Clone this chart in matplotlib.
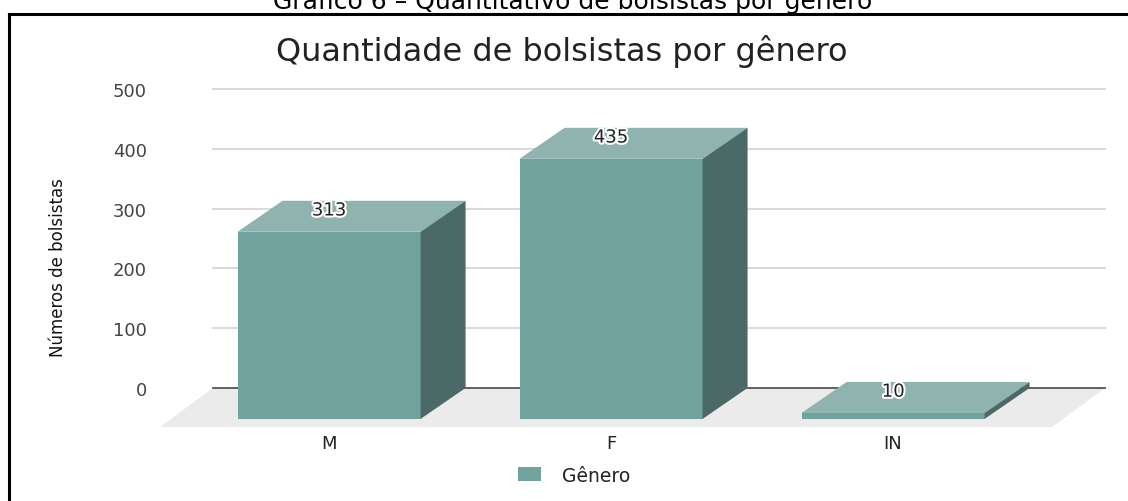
import matplotlib.pyplot as plt
import matplotlib.patheffects as pe
from matplotlib.patches import Polygon, Patch
from matplotlib.lines import Line2D

# Data
categories = ['M', 'F', 'IN']
bolsistas = [313, 435, 10]
y_ticks = [0, 100, 200, 300, 400, 500]

chart_title = 'Quantidade de bolsistas por gênero'
caption = 'Gráfico 6 – Quantitativo de bolsistas por gênero'
y_label = 'Números de bolsistas'
legend_label = 'Gênero'

# Colors
front_color = '#71a39e'
top_color = '#8fb4b0'
side_color = '#4b6a67'
floor_color = '#ebebeb'
grid_color = '#d9d9d9'

# fake 3d geometry (in data units)
half_w = 0.3245      # half width of the front face
depth_x = 0.1596     # horizontal shift of the back face
depth_y = 51.8       # vertical shift of the back face
grid_x0, grid_x1 = -0.411, 2.752
floor_front = (-0.599, 2.564, -65.2)

fig = plt.figure(figsize=(11.28, 5.02), dpi=100)
ax = fig.add_axes([0.1330, 0.1355, 0.8511, 0.7251])
ax.set_xlim(-0.6348, 2.7695)
ax.set_ylim(-75.25, 533.4)

# floor
floor = Polygon([(grid_x0, 0), (grid_x1, 0), (floor_front[1], floor_front[2]),
                 (floor_front[0], floor_front[2])], closed=True,
                facecolor=floor_color, edgecolor='none', zorder=1)
ax.add_patch(floor)

# gridlines on the back wall
for t in y_ticks[1:]:
    ax.plot([grid_x0, grid_x1], [t, t], color=grid_color, lw=1.4, zorder=0.5)
ax.plot([grid_x0, grid_x1], [0, 0], color='#555555', lw=1.3, zorder=1.5)

# bars
for i, v in enumerate(bolsistas):
    x0, x1 = i - half_w, i + half_w
    front = Polygon([(x0, -depth_y), (x1, -depth_y), (x1, v - depth_y), (x0, v - depth_y)],
                    facecolor=front_color, edgecolor='none', zorder=3)
    top = Polygon([(x0, v - depth_y), (x1, v - depth_y), (x1 + depth_x, v), (x0 + depth_x, v)],
                  facecolor=top_color, edgecolor='none', zorder=3)
    side = Polygon([(x1, -depth_y), (x1 + depth_x, 0), (x1 + depth_x, v), (x1, v - depth_y)],
                   facecolor=side_color, edgecolor='none', zorder=3)
    for p in (front, top, side):
        ax.add_patch(p)
    ax.annotate(str(v), (i, v), xytext=(0, -7), textcoords='offset points',
                ha='center', va='center', fontsize=13, color='#222222', zorder=5,
                path_effects=[pe.withStroke(linewidth=3, foreground='white')])

# axes
ax.set_yticks(y_ticks)
ax.set_yticklabels([str(t) for t in y_ticks], fontsize=13, color='#444444')
ax.set_xticks(range(len(categories)))
ax.set_xticklabels(categories, fontsize=13, color='#222222')
ax.tick_params(axis='y', length=0, pad=2.2)
ax.tick_params(axis='x', length=0, pad=1)
for s in ax.spines.values():
    s.set_visible(False)
ax.patch.set_visible(False)

fig.text(58 / 1128, 0.468, y_label, rotation=90, ha='center', va='center',
         fontsize=12, color='#111111')

# title and caption
fig.text(562 / 1128, 1 - 52 / 502, chart_title, ha='center', va='center',
         fontsize=23, color='#222222')
fig.text(573 / 1128, 1 - 9.5 / 502, caption, ha='center', va='baseline',
         fontsize=18, color='#000000')

# legend
fig.legend(handles=[Patch(facecolor=front_color, edgecolor='none', label=legend_label)],
           loc='center', bbox_to_anchor=(574.5 / 1128, 1 - 476 / 502), frameon=False,
           fontsize=13.5, handlelength=1.23, handleheight=0.85, handletextpad=1.12,
           labelcolor='#222222')

# black frame (left and top edges visible)
fig.add_artist(Line2D([9 / 1128, 9 / 1128], [0, 1 - 15 / 502], color='black', lw=2.2,
                      transform=fig.transFigure))
fig.add_artist(Line2D([9 / 1128, 1], [1 - 15 / 502, 1 - 15 / 502], color='black', lw=2.2,
                      transform=fig.transFigure))

plt.savefig('out.png', dpi=100)
